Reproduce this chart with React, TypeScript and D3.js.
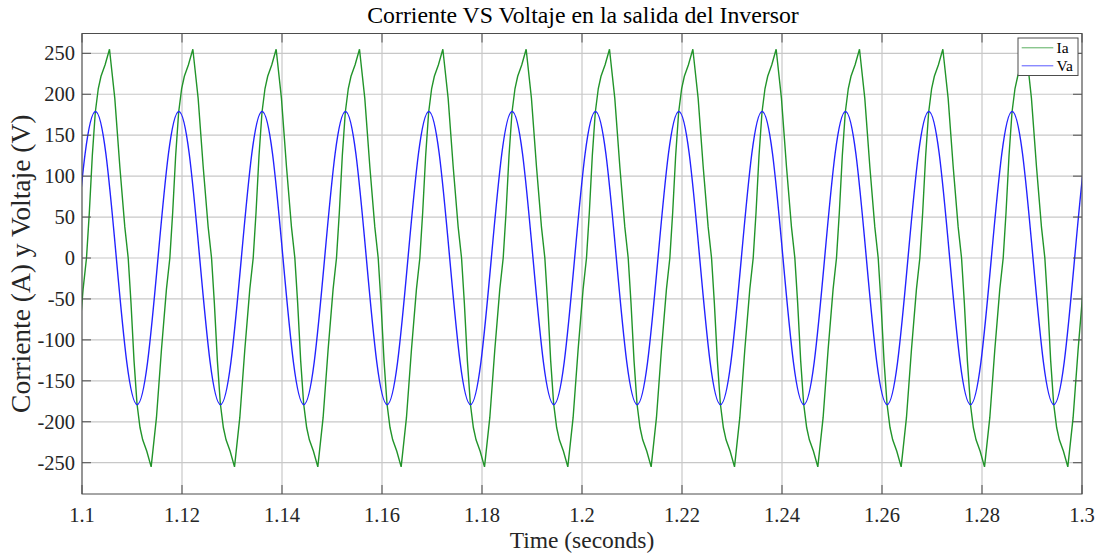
import React from "react";
import * as d3 from "d3";

// ---- data ----
const X_TICKS = [1.1, 1.12, 1.14, 1.16, 1.18, 1.2, 1.22, 1.24, 1.26, 1.28, 1.3];
const X_TICK_LABELS = ["1.1", "1.12", "1.14", "1.16", "1.18", "1.2", "1.22", "1.24", "1.26", "1.28", "1.3"];
const Y_TICKS = [-250, -200, -150, -100, -50, 0, 50, 100, 150, 200, 250];
const Y_TICK_LABELS = ["-250", "-200", "-150", "-100", "-50", "0", "50", "100", "150", "200", "250"];

// Va: times of each positive peak (s), and one cycle of the waveform relative to its peak
const VA_PEAKS = [1.08603, 1.1027, 1.11937, 1.13603, 1.1527, 1.16937, 1.18603, 1.2027, 1.21937, 1.23603, 1.2527, 1.26937, 1.28603, 1.3027];
const VA_CYCLE_MS = [0, 2.083, 4.167, 6.25, 8.333, 10.417, 12.5, 14.583];
const VA_CYCLE_VAL = [179, 127, 0, -127, -179, -127, 0, 127];

// Ia: times of each positive peak (s), and one cycle of the waveform relative to its peak
const IA_PEAKS = [1.08883, 1.1055, 1.12217, 1.13883, 1.1555, 1.17217, 1.18883, 1.2055, 1.22217, 1.23883, 1.2555, 1.27217, 1.28883, 1.3055];
const IA_CYCLE_MS = [0, 1.06, 2.06, 3.06, 3.74, 4.3, 4.9, 5.5, 6.1, 6.64, 7.46, 8.333, 9.39, 10.39, 11.39, 12.07, 12.63, 13.23, 13.83, 14.43, 14.97, 15.79];
const IA_CYCLE_VAL = [255, 195, 112, 38, 0, -55, -125, -178, -207, -222, -236, -255, -195, -112, -38, 0, 55, 125, 178, 207, 222, 236];

const SERIES_NAMES = ["Ia", "Va"];
const SERIES_COLORS = ["#22942a", "#2323ff"];

function buildSeries(peaks: number[], ms: number[], vals: number[]): [number, number][] {
  const out: [number, number][] = [];
  peaks.forEach((p) => ms.forEach((m, i) => out.push([p + m / 1000, vals[i]])));
  return out;
}

const W = 1101;
const H = 555;
const L = 82, R = 1082, T = 33.5, B = 494;
const FONT = "'Liberation Serif', 'Times New Roman', serif";

export default function App() {
  const x = d3.scaleLinear().domain([1.1, 1.3]).range([L, R]);
  const y = d3.scaleLinear().domain([-288.2, 274.2]).range([B, T]);

  const ia = buildSeries(IA_PEAKS, IA_CYCLE_MS, IA_CYCLE_VAL);
  const va = buildSeries(VA_PEAKS, VA_CYCLE_MS, VA_CYCLE_VAL);

  const lineIa = d3.line<[number, number]>().x((d) => x(d[0])).y((d) => y(d[1])).curve(d3.curveLinear);
  const lineVa = d3.line<[number, number]>().x((d) => x(d[0])).y((d) => y(d[1])).curve(d3.curveNatural);

  const axisColor = "#4d4d4d";
  const gridColor = "#c8c8c8";
  const tickLen = 9;

  const legX = 1018, legY = 38, legW = 60, legH = 37.5;
  const legRow0 = 47.8, legStep = 18;

  return (
    <svg width={W} height={H} style={{ position: "absolute", left: 0, top: 0, background: "#fff" }} fontFamily={FONT}>
      <defs>
        <clipPath id="plotClip">
          <rect x={L} y={T} width={R - L} height={B - T} />
        </clipPath>
      </defs>
      <rect x={0} y={0} width={W} height={H} fill="#fff" />
      {/* grid */}
      {X_TICKS.map((t, i) => (
        <line key={"gx" + i} x1={x(t)} x2={x(t)} y1={T} y2={B} stroke={gridColor} strokeWidth={1.2} />
      ))}
      {Y_TICKS.map((t, i) => (
        <line key={"gy" + i} x1={L} x2={R} y1={y(t)} y2={y(t)} stroke={gridColor} strokeWidth={1.2} />
      ))}
      {/* data */}
      <g clipPath="url(#plotClip)">
        <path d={lineIa(ia) || ""} fill="none" stroke={SERIES_COLORS[0]} strokeWidth={1.4} />
        <path d={lineVa(va) || ""} fill="none" stroke={SERIES_COLORS[1]} strokeWidth={1.4} />
      </g>
      {/* ticks */}
      {X_TICKS.map((t, i) => (
        <g key={"tx" + i}>
          <line x1={x(t)} x2={x(t)} y1={B} y2={B - tickLen} stroke={axisColor} strokeWidth={1} />
          <line x1={x(t)} x2={x(t)} y1={T} y2={T + tickLen} stroke={axisColor} strokeWidth={1} />
          <text x={x(t)} y={522} textAnchor="middle" fontSize={20.5} fill="#262626">
            {X_TICK_LABELS[i]}
          </text>
        </g>
      ))}
      {Y_TICKS.map((t, i) => (
        <g key={"ty" + i}>
          <line x1={L} x2={L + tickLen} y1={y(t)} y2={y(t)} stroke={axisColor} strokeWidth={1} />
          <line x1={R} x2={R - tickLen} y1={y(t)} y2={y(t)} stroke={axisColor} strokeWidth={1} />
          <text x={75} y={y(t)} dy="0.35em" textAnchor="end" fontSize={20.5} fill="#262626">
            {Y_TICK_LABELS[i]}
          </text>
        </g>
      ))}
      {/* box */}
      <rect x={L} y={T} width={R - L} height={B - T} fill="none" stroke={axisColor} strokeWidth={1} />
      {/* labels */}
      <text x={(L + R) / 2 + 1} y={23} textAnchor="middle" fontSize={23.8} fill="#000">
        Corriente VS Voltaje en la salida del Inversor
      </text>
      <text x={(L + R) / 2} y={548} textAnchor="middle" fontSize={23.5} fill="#262626">
        Time (seconds)
      </text>
      <text transform={`translate(30,${(T + B) / 2}) rotate(-90)`} textAnchor="middle" fontSize={27.5} fill="#262626">
        Corriente (A) y Voltaje (V)
      </text>
      {/* legend */}
      <rect x={legX} y={legY} width={legW} height={legH} fill="#fff" stroke={axisColor} strokeWidth={1} />
      {SERIES_NAMES.map((n, i) => (
        <g key={"lg" + i}>
          <line x1={1021.7} x2={1053.3} y1={legRow0 + i * legStep} y2={legRow0 + i * legStep} stroke={SERIES_COLORS[i]} strokeWidth={1} opacity={0.75} />
          <text x={1056.5} y={legRow0 + i * legStep} dy="0.35em" fontSize={15.5} fill="#000">
            {n}
          </text>
        </g>
      ))}
    </svg>
  );
}
